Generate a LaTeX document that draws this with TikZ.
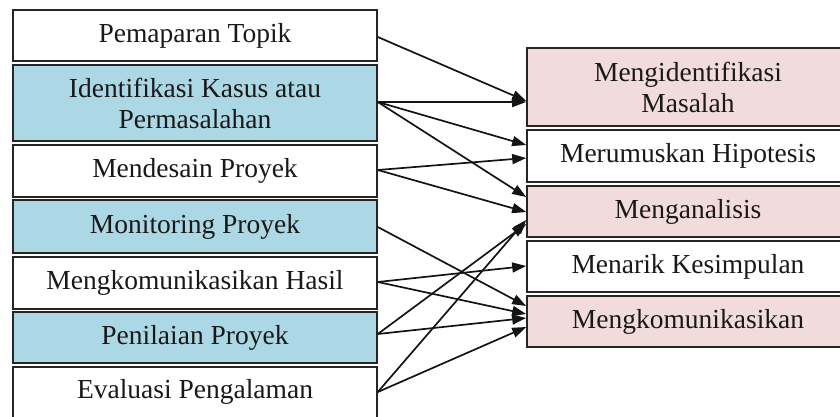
\documentclass[tikz,border=0pt]{standalone}
\usepackage{fontspec}
\setmainfont{Liberation Serif}
\usetikzlibrary{arrows.meta,calc}
\definecolor{boxblue}{RGB}{172,215,229}
\definecolor{boxpink}{RGB}{242,220,219}
\definecolor{edge}{RGB}{38,38,38}
\definecolor{ink}{RGB}{25,25,25}
\begin{document}
\begin{tikzpicture}[x=1pt,y=-1pt,
  box/.style={draw=edge,line width=1.6pt,text=ink,align=center,inner sep=0pt,
    font=\fontsize{27.5}{31}\selectfont},
  lbox/.style={box,minimum width=364pt},
  rbox/.style={box,minimum width=322pt},
  conn/.style={draw=black!92,line width=1.7pt,-{Triangle[length=14pt,width=10pt]}}]
\useasboundingbox (0,0) rectangle (840,417);
\begin{scope}
\clip (0,0) rectangle (840,417);
% left column
\node[lbox,fill=white,minimum height=51pt] (L1) at (195,35.5) {Pemaparan Topik};
\node[lbox,fill=boxblue,minimum height=76pt] (L2) at (195,103) {Identifikasi Kasus atau\\Permasalahan};
\node[lbox,fill=white,minimum height=52pt] (L3) at (195,171) {Mendesain Proyek};
\node[lbox,fill=boxblue,minimum height=53pt] (L4) at (195,226.5) {Monitoring Proyek};
\node[lbox,fill=white,minimum height=52pt] (L5) at (195,283) {Mengkomunikasikan Hasil};
\node[lbox,fill=boxblue,minimum height=51pt] (L6) at (195,337.5) {Penilaian Proyek};
\node[lbox,fill=white,minimum height=58pt,text height=19pt,text depth=14pt] (L7) at (195,396) {Evaluasi Pengalaman};
% right column
\node[rbox,fill=boxpink,minimum height=78pt] (R1) at (688,87) {Mengidentifikasi\\Masalah};
\node[rbox,fill=white,minimum height=52pt] (R2) at (688,156) {Merumuskan Hipotesis};
\node[rbox,fill=boxpink,minimum height=51pt] (R3) at (688,211.5) {Menganalisis};
\node[rbox,fill=white,minimum height=51pt] (R4) at (688,266.5) {Menarik Kesimpulan};
\node[rbox,fill=boxpink,minimum height=51pt] (R5) at (688,321.5) {Mengkomunikasikan};
% connectors
\draw[conn] (L1.east |- 0,37) -- (R1.west |- 0,101);
\draw[conn] (L2.east |- 0,102) -- (R1.west |- 0,102);
\draw[conn] (L2.east |- 0,102) -- (R2.west |- 0,145);
\draw[conn] (L2.east |- 0,102) -- (R3.west |- 0,197);
\draw[conn] (L3.east |- 0,170) -- (R2.west |- 0,158);
\draw[conn] (L3.east |- 0,170) -- (R3.west |- 0,212);
\draw[conn] (L4.east |- 0,227) -- (R5.west |- 0,306);
\draw[conn] (L5.east |- 0,282) -- (R4.west |- 0,266);
\draw[conn] (L5.east |- 0,282) -- (R5.west |- 0,314);
\draw[conn] (L6.east |- 0,334) -- (R3.west |- 0,224);
\draw[conn] (L6.east |- 0,334) -- (R5.west |- 0,318);
\draw[conn] (L7.east |- 0,392) -- (R3.west |- 0,220);
\draw[conn] (L7.east |- 0,392) -- (R5.west |- 0,327);
\end{scope}
\end{tikzpicture}
\end{document}
